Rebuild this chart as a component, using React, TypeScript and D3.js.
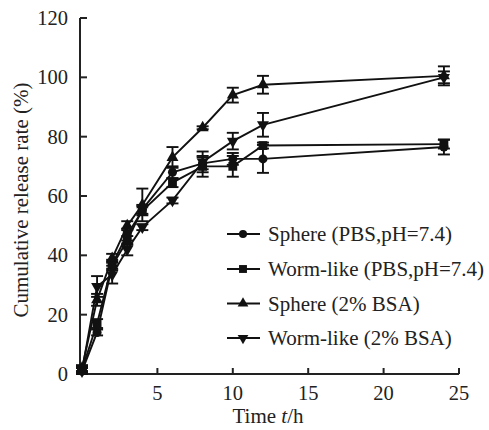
import React, { useEffect, useRef } from "react";
import * as d3 from "d3";

// time points (h)
const times = [0, 1, 2, 3, 4, 6, 8, 10, 12, 24];

const spherePBS = [1, 14, 36.5, 45, 55.5, 68, 71, 72.5, 72.5, 76.5];
const spherePBSErr = [1, 1, 1.5, 1.5, 1.5, 2, 2, 2, 4.7, 2.5];
const wormPBS = [1.5, 17, 37, 47, 55, 64.5, 70, 70, 77, 77.5];
const wormPBSErr = [1, 1.5, 1.5, 2, 1.5, 1.5, 3.5, 3.5, 1, 1.5];
const sphereBSA = [2, 25, 39, 50, 57, 73, 83, 94, 97.5, 100.5];
const sphereBSAErr = [1, 2, 1.5, 1.5, 5.5, 3.5, 0.5, 2.5, 3, 3.2];
const wormBSA = [1, 29.5, 33.5, 42, 49.5, 58.5, 71.5, 78.5, 84, 100];
const wormBSAErr = [1, 3.5, 3, 2, 1, 1, 3.5, 2.8, 4, 2];

const seriesNames = [
  "Sphere (PBS,pH=7.4)",
  "Worm-like (PBS,pH=7.4)",
  "Sphere (2% BSA)",
  "Worm-like (2% BSA)",
];

const xTicks = [5, 10, 15, 20, 25];
const yTicks = [0, 20, 40, 60, 80, 100, 120];

const FONT = "Liberation Serif";

const ReleaseChart = () => {
  const ref = useRef(null);

  useEffect(() => {
    const width = 489, height = 430;
    const node = ref.current;
    d3.select(node).selectAll("*").remove();

    const svg = d3.select(node)
      .append("svg")
      .attr("width", width)
      .attr("height", height)
      .attr("font-family", FONT)
      .style("position", "absolute")
      .style("left", "0px")
      .style("top", "0px")
      .style("background", "#fff");

    const x = d3.scaleLinear().domain([0, 25]).range([82, 459]);
    const y = d3.scaleLinear().domain([0, 120]).range([374, 18]);

    const series = [
      { name: seriesNames[0], vals: spherePBS, err: spherePBSErr, sym: d3.symbolCircle, size: 64, rot: 0 },
      { name: seriesNames[1], vals: wormPBS, err: wormPBSErr, sym: d3.symbolSquare, size: 78, rot: 0 },
      { name: seriesNames[2], vals: sphereBSA, err: sphereBSAErr, sym: d3.symbolTriangle, size: 62, rot: 0 },
      { name: seriesNames[3], vals: wormBSA, err: wormBSAErr, sym: d3.symbolTriangle, size: 62, rot: 180 },
    ];

    const label = (sel, size = 21) => sel
      .attr("font-family", FONT)
      .attr("font-size", size)
      .attr("fill", "#222");

    // axes
    svg.append("line")
      .attr("x1", 80).attr("x2", 80)
      .attr("y1", y(120)).attr("y2", y(0) + 1)
      .attr("stroke", "#222").attr("stroke-width", 2);
    svg.append("line")
      .attr("x1", 79).attr("x2", x(25))
      .attr("y1", y(0)).attr("y2", y(0))
      .attr("stroke", "#222").attr("stroke-width", 2);

    yTicks.forEach(t => {
      svg.append("line")
        .attr("x1", 80).attr("x2", 87)
        .attr("y1", y(t)).attr("y2", y(t))
        .attr("stroke", "#222").attr("stroke-width", 2);
      svg.append("text")
        .attr("x", 68).attr("y", y(t) + 7)
        .attr("text-anchor", "end")
        .call(label, 20.5)
        .text(t);
    });

    xTicks.forEach(t => {
      svg.append("line")
        .attr("x1", x(t)).attr("x2", x(t))
        .attr("y1", y(0)).attr("y2", y(0) - 6)
        .attr("stroke", "#222").attr("stroke-width", 2);
      svg.append("text")
        .attr("x", x(t)).attr("y", 400)
        .attr("text-anchor", "middle")
        .call(label, 20.5)
        .text(t);
    });

    const xt = svg.append("text")
      .attr("x", 268).attr("y", 423)
      .attr("text-anchor", "middle")
      .call(label);
    xt.append("tspan").text("Time ");
    xt.append("tspan").attr("font-style", "italic").text("t");
    xt.append("tspan").text("/h");

    svg.append("text")
      .attr("transform", "translate(28,200) rotate(-90)")
      .attr("text-anchor", "middle")
      .call(label)
      .text("Cumulative release rate (%)");

    const line = d3.line().x(d => x(d[0])).y(d => y(d[1]));
    const plot = svg.append("g");

    series.forEach(s => {
      const pts = times.map((t, i) => [t, s.vals[i]]);
      plot.append("path")
        .attr("d", line(pts))
        .attr("fill", "none")
        .attr("stroke", "#111")
        .attr("stroke-width", 1.9);
    });

    series.forEach(s => {
      times.forEach((t, i) => {
        const cx = x(t);
        const lo = y(s.vals[i] - s.err[i]);
        const hi = y(s.vals[i] + s.err[i]);
        const g = plot.append("g").attr("stroke", "#111").attr("stroke-width", 1.9);
        g.append("line").attr("x1", cx).attr("x2", cx).attr("y1", lo).attr("y2", hi);
        g.append("line").attr("x1", cx - 6).attr("x2", cx + 6).attr("y1", lo).attr("y2", lo);
        g.append("line").attr("x1", cx - 6).attr("x2", cx + 6).attr("y1", hi).attr("y2", hi);
      });
    });

    series.forEach(s => {
      const sym = d3.symbol().type(s.sym).size(s.size);
      times.forEach((t, i) => {
        plot.append("path")
          .attr("d", sym())
          .attr("transform", `translate(${x(t)},${y(s.vals[i])}) rotate(${s.rot})`)
          .attr("fill", "#111");
      });
    });

    // legend
    const legend = svg.append("g");
    const rowY = [234, 269, 303.5, 338];
    series.forEach((s, i) => {
      const ly = rowY[i];
      legend.append("line")
        .attr("x1", 227).attr("x2", 260)
        .attr("y1", ly).attr("y2", ly)
        .attr("stroke", "#111").attr("stroke-width", 1.9);
      legend.append("path")
        .attr("d", d3.symbol().type(s.sym).size(s.size * 0.8)())
        .attr("transform", `translate(243,${ly}) rotate(${s.rot})`)
        .attr("fill", "#111");
      legend.append("text")
        .attr("x", 268).attr("y", ly + 7)
        .call(label)
        .text(s.name);
    });
  }, []);

  return <div ref={ref}></div>;
};

export default function App() {
  return <ReleaseChart />;
}
